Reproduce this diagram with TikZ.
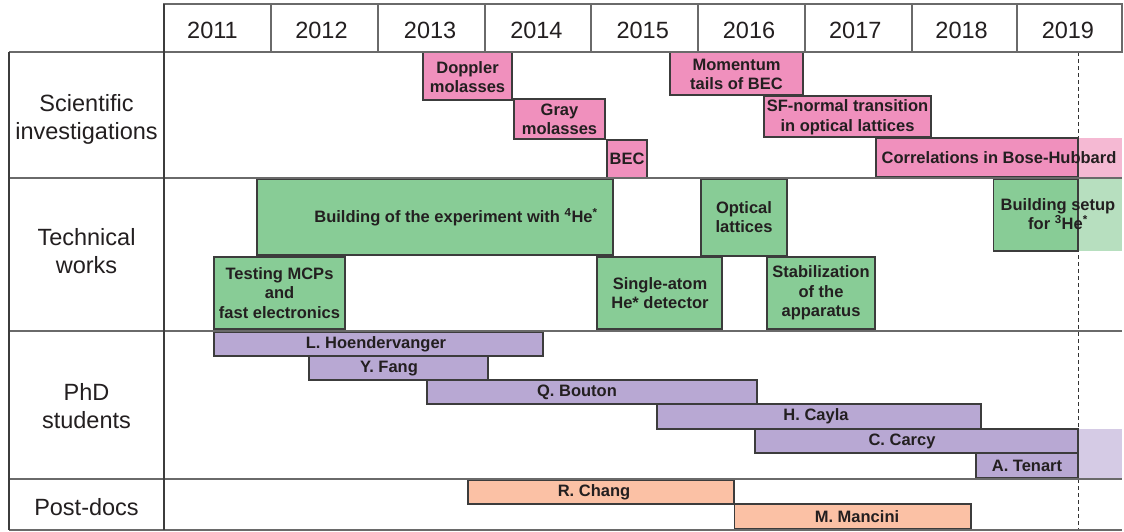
\documentclass[tikz,border=0pt]{standalone}
\usepackage{fontspec}
\setmainfont{Liberation Sans}
\definecolor{pk}{HTML}{F090BD}
\definecolor{pkl}{HTML}{F5B9D3}
\definecolor{gr}{HTML}{88CC96}
\definecolor{grl}{HTML}{B7DFBF}
\definecolor{pu}{HTML}{B8A8D3}
\definecolor{pul}{HTML}{D5CBE5}
\definecolor{sa}{HTML}{FBC1A5}
\definecolor{edgec}{HTML}{3C3C3C}
\definecolor{gridc}{HTML}{6A6A6A}
\definecolor{txt}{HTML}{231F20}
\begin{document}
\begin{tikzpicture}[x=1pt,y=-1pt,
  gridline/.style={draw=gridc,line width=1.4pt},
  pinkbar/.style={draw=edgec,line width=1.2pt,fill=pk},
  greenbar/.style={draw=edgec,line width=1.2pt,fill=gr},
  purplebar/.style={draw=edgec,line width=1.2pt,fill=pu},
  salmonbar/.style={draw=edgec,line width=1.2pt,fill=sa},
  lbl/.style={font=\bfseries\fontsize{16.5}{19.5}\selectfont,align=center,inner sep=0pt,text=txt},
  yearlbl/.style={font=\fontsize{23.5}{27}\selectfont,inner sep=0pt,text=txt},
  rowlbl/.style={font=\fontsize{23.5}{27.5}\selectfont,align=center,inner sep=0pt,text=txt}]
\useasboundingbox (0,0) rectangle (1124,531);
\fill[white] (0,0) rectangle (1124,531);
% dashed "now" line
\coordinate (nowtop) at (1078,52);
\coordinate (nowbot) at (1078,530);
\draw[draw=black!80,line width=1pt,dash pattern=on 4pt off 3pt] (nowtop) -- (nowbot);
% faded extensions
\fill[pkl] (1078,138) rectangle (1122,177);
\fill[grl] (1078,179) rectangle (1122,251);
\fill[pul] (1078,429) rectangle (1122,478);
% scientific investigations
\draw[pinkbar] (423,52) rectangle (512,100);
\node[lbl] (doppler) at (467.5,77) {Doppler\\molasses};
\draw[pinkbar] (514,99) rectangle (605,139);
\node[lbl] (gray) at (559.5,119.5) {Gray\\molasses};
\draw[pinkbar] (607,140) rectangle (647,178);
\node[lbl] (bec) at (627,159) {BEC};
\draw[pinkbar] (670,52) rectangle (803,95);
\node[lbl] (momentum) at (736.5,74.5) {Momentum\\tails of BEC};
\draw[pinkbar] (764,96) rectangle (931,137);
\node[lbl] (sfnormal) at (847.5,117) {SF-normal transition\\in optical lattices};
\draw[pinkbar] (876,138) rectangle (1078,177);
\node[lbl] (corr) at (999,157.5) {Correlations in Bose-Hubbard};
% technical works
\draw[greenbar] (257,179) rectangle (613,255);
\node[lbl] (building) at (456,217) {Building of the experiment with \textsuperscript{4}He\textsuperscript{*}};
\draw[greenbar] (214,257) rectangle (345,329);
\node[lbl] (mcp) at (279.5,293) {Testing MCPs\\and\\fast electronics};
\draw[greenbar] (701,179) rectangle (787,256);
\node[lbl] (optical) at (744,217) {Optical\\lattices};
\draw[greenbar] (597,257) rectangle (722,329);
\node[lbl] (single) at (660,293) {Single-atom\\He* detector};
\draw[greenbar] (767,257) rectangle (875,329);
\node[lbl] (stab) at (821,293) {Stabilization\\of the\\apparatus};
\draw[greenbar] (993.5,179) rectangle (1078,251);
\node[lbl] (he3) at (1058,214) {Building setup\\for \textsuperscript{3}He\textsuperscript{*}};
% PhD students
\draw[purplebar] (214,332) rectangle (543,356);
\node[lbl] (hoen) at (376,344) {L. Hoendervanger};
\draw[purplebar] (309,356) rectangle (488,380);
\node[lbl] (fang) at (389,368.5) {Y. Fang};
\draw[purplebar] (427,380) rectangle (757,404);
\node[lbl] (bouton) at (577,392) {Q. Bouton};
\draw[purplebar] (657,404) rectangle (981,429);
\node[lbl] (cayla) at (816,416.5) {H. Cayla};
\draw[purplebar] (755,429) rectangle (1078,453);
\node[lbl] (carcy) at (902,441) {C. Carcy};
\draw[purplebar] (976,453) rectangle (1078,478);
\node[lbl] (tenart) at (1027,465.5) {A. Tenart};
% post-docs
\draw[salmonbar] (468,480) rectangle (734,504);
\node[lbl] (chang) at (594,492) {R. Chang};
\draw[salmonbar] (734.5,504) rectangle (971,529);
\node[lbl] (mancini) at (857,516.5) {M. Mancini};
% grid
\draw[gridline] (164,4) rectangle (1122,52);
\foreach \x in {271,378,485,591,698,805,912,1017} \draw[gridline] (\x,4) -- (\x,52);
\draw[gridline] (9,52) -- (1122,52);
\draw[gridline] (9,178) -- (1122,178);
\draw[gridline] (9,331) -- (1122,331);
\draw[gridline] (9,479) -- (1122,479);
\draw[gridline] (9,530) -- (1122,530);
\draw[draw=edgec,line width=1.4pt] (9,52) -- (9,530);
\draw[draw=edgec,line width=1.4pt] (164,4) -- (164,530);
% years
\node[yearlbl] (y2011) at (212.5,30) {2011};
\node[yearlbl] (y2012) at (321.5,30) {2012};
\foreach \y [count=\i from 2] in {2013,...,2019}
  \node[yearlbl] (y\y) at (217.5+106.3*\i,30) {\y};
% row labels
\node[rowlbl] (sci) at (86.5,119.5) {Scientific\\investigations};
\node[rowlbl] (tech) at (86.5,251) {Technical\\works};
\node[rowlbl] (phd) at (86.5,406) {PhD\\students};
\node[rowlbl] (post) at (86.5,507) {Post-docs};
\end{tikzpicture}
\end{document}
